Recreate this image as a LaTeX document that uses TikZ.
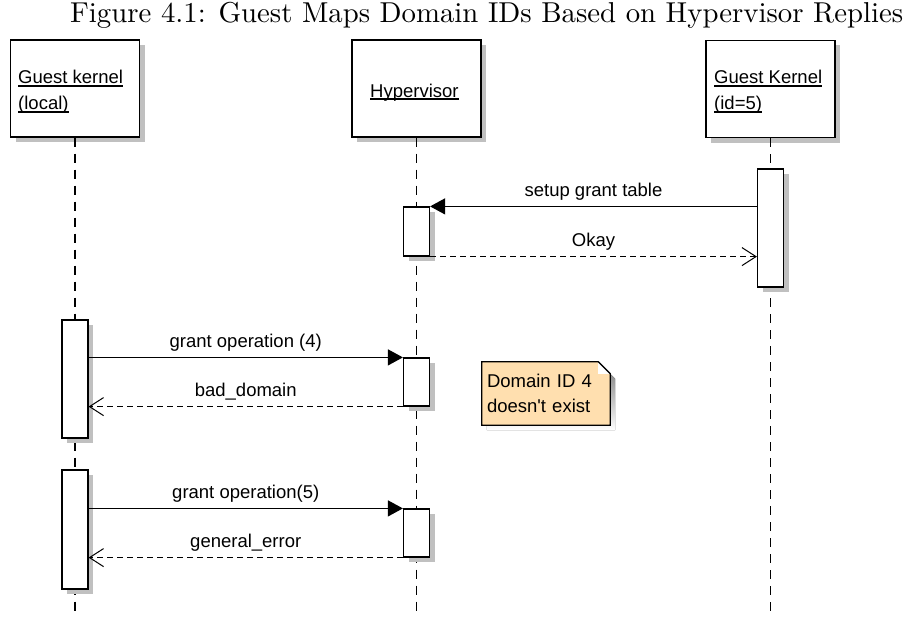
\documentclass[tikz,border=0pt]{standalone}
\usepackage{graphicx}
\usepackage{fontspec}
\newfontfamily\umlfont{Liberation Sans}
\usetikzlibrary{arrows.meta,shadows,backgrounds}

\definecolor{shade}{RGB}{192,192,192}
\definecolor{notefill}{RGB}{255,223,175}

% underline at a fixed distance below the baseline
\newcommand\umlul[1]{{\setbox0\hbox{#1}\rlap{\vrule width\wd0 height -1.4pt depth 2.6pt}\box0}}

\begin{document}
\begin{tikzpicture}[x=1pt,y=-1pt,
  every node/.style={font=\umlfont\fontsize{18.5}{25}\selectfont},
  boxshadow/.style={general shadow={fill=shade, shadow xshift=5pt, shadow yshift=-5pt}},
  participant/.style={draw, line width=1.2pt, fill=white, minimum width=129pt,
    minimum height=97pt, inner sep=0pt, boxshadow},
  activation/.style={draw, line width=1.2pt, fill=white, minimum width=26pt,
    inner sep=0pt, boxshadow},
  partlabel/.style={anchor=base west, inner sep=0pt},
  lifeline/.style={line width=1.2pt, dash pattern=on 9pt off 7pt},
  msg/.style={line width=1.2pt, -{Triangle[length=15pt,width=16pt]}},
  reply/.style={line width=1.2pt, dash pattern=on 6pt off 4pt,
    -{Straight Barb[length=14pt,width=18pt,line width=1pt]}},
  msglabel/.style={anchor=base, yshift=10pt, inner sep=0pt},
]
\useasboundingbox (0,0) rectangle (913,618);

% caption
\node[anchor=base west, inner sep=0pt, font=\normalfont] (caption) at (70,23)
  {\resizebox{833pt}{!}{Figure 4.1: Guest Maps Domain IDs Based on Hypervisor Replies}};

% participants
\node[participant] (GL) at (75,88.5) {};
\node[participant] (HV) at (416.5,88.5) {};
\node[participant] (GK) at (770.5,89) {};

\node[partlabel] (GLa) at (18,84) {\umlul{Guest kernel}};
\node[partlabel] (GLb) at (18,110) {\umlul{(local)}};
\node[partlabel] (HVa) at (370,97) {\umlul{Hypervisor}};
\node[partlabel] (GKa) at (714,84) {\umlul{Guest Kernel}};
\node[partlabel] (GKb) at (714,110) {\umlul{(id=5)}};

% lifelines
\coordinate (GLend) at (75,614);
\coordinate (HVend) at (416.5,614);
\coordinate (GKend) at (770.5,614);
\draw[lifeline] (GL.south) -- (GLend);
\draw[lifeline] (HV.south) -- (HVend);
\draw[lifeline] (GK.south) -- (GKend);

% activations
\node[activation, minimum height=118pt] (A5)  at (770.5,228) {};
\node[activation, minimum height=49pt]  (HA1) at (416.5,231.5) {};
\node[activation, minimum height=118pt] (LA1) at (75,379) {};
\node[activation, minimum height=48pt]  (HA2) at (416.5,382) {};
\node[activation, minimum height=119pt] (LA2) at (75,529.5) {};
\node[activation, minimum height=48pt]  (HA3) at (416.5,533) {};

% messages
\draw[msg] (A5.west |- HA1.north east) -- (HA1.north east)
  node[msglabel, midway] (m1) {setup grant table};
\draw[reply] (HA1.south east) -- (A5.west |- HA1.south east)
  node[msglabel, midway] (m2) {Okay};
\draw[msg] (LA1.east |- HA2.north west) -- (HA2.north west)
  node[msglabel, midway] (m3) {grant operation (4)};
\draw[reply] (HA2.south west) -- (LA1.east |- HA2.south west)
  node[msglabel, midway] (m4) {bad\_domain};
\draw[msg] (LA2.east |- HA3.north west) -- (HA3.north west)
  node[msglabel, midway] (m5) {grant operation(5)};
\draw[reply] (HA3.south west) -- (LA2.east |- HA3.south west)
  node[msglabel, midway] (m6) {general\_error};

% note with a folded corner
\node[inner sep=0pt, text width=118pt, minimum width=128pt, minimum height=63pt,
  align=left] (note) at (546,393.5) {Domain ID 4\\doesn't exist};
\begin{pgfonlayer}{background}
  \fill[shade] ([shift={(5,5)}]note.north west) -- ([shift={(-7,5)}]note.north east)
    -- ([shift={(5,17)}]note.north east) -- ([shift={(5,5)}]note.south east)
    -- ([shift={(5,5)}]note.south west) -- cycle;
  \filldraw[fill=notefill, line width=1.2pt, line join=miter]
    (note.north west) -- ([xshift=-12pt]note.north east)
    -- ([yshift=-12pt]note.north east) -- (note.south east)
    -- (note.south west) -- cycle;
  \fill[white] ([xshift=-12pt]note.north east) -- ([yshift=-12pt]note.north east)
    -- ([shift={(-12pt,-12pt)}]note.north east) -- cycle;
  \draw[line width=1.2pt] ([xshift=-12pt]note.north east) -- ([yshift=-12pt]note.north east);
\end{pgfonlayer}
\end{tikzpicture}
\end{document}
